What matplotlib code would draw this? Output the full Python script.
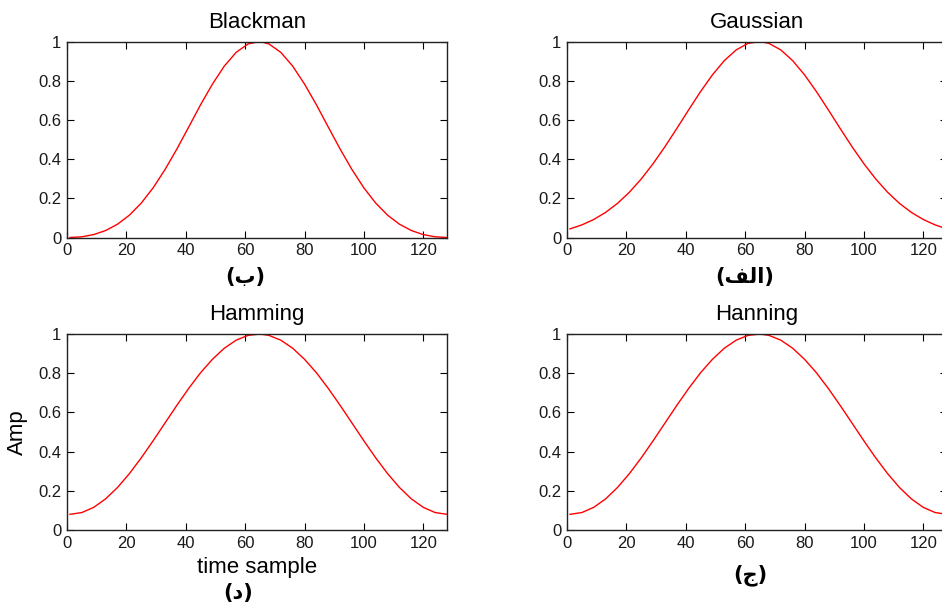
import matplotlib
matplotlib.use("Agg")
import matplotlib.pyplot as plt

plt.rcParams['font.family'] = ['Liberation Sans', 'DejaVu Sans']

# sample index (MATLAB style, 1..128), read every 4 samples off the curves
samples = [1, 5, 9, 13, 17, 21, 25, 29, 33, 37, 41, 45, 49, 53, 57, 61, 65,
           68, 72, 76, 80, 84, 88, 92, 96, 100, 104, 108, 112, 116, 120, 124, 128]

blackman = [0.0000, 0.0036, 0.0149, 0.0355, 0.0677, 0.1137, 0.1753, 0.2532, 0.3462,
            0.4512, 0.5637, 0.6775, 0.7829, 0.8749, 0.9449, 0.9878, 0.9998,
            0.9878, 0.9449, 0.8749, 0.7829, 0.6775, 0.5637, 0.4512, 0.3462,
            0.2532, 0.1753, 0.1137, 0.0677, 0.0355, 0.0149, 0.0036, 0.0000]

gaussian = [0.0439, 0.0643, 0.0919, 0.1280, 0.1740, 0.2307, 0.2984, 0.3766, 0.4635,
            0.5565, 0.6518, 0.7448, 0.8301, 0.9026, 0.9573, 0.9905, 0.9998,
            0.9905, 0.9573, 0.9026, 0.8301, 0.7448, 0.6518, 0.5565, 0.4635,
            0.3766, 0.2984, 0.2307, 0.1740, 0.1280, 0.0919, 0.0643, 0.0439]

hamming = [0.0800, 0.0890, 0.1156, 0.1587, 0.2168, 0.2874, 0.3678, 0.4551, 0.5457,
           0.6359, 0.7226, 0.8026, 0.8711, 0.9276, 0.9687, 0.9931, 0.9999,
           0.9931, 0.9687, 0.9276, 0.8711, 0.8026, 0.7226, 0.6359, 0.5457,
           0.4551, 0.3678, 0.2874, 0.2168, 0.1587, 0.1156, 0.0890, 0.0800]

# the "Hanning" panel in the source shows the same curve as Hamming
hanning = [0.0800, 0.0890, 0.1156, 0.1587, 0.2168, 0.2874, 0.3678, 0.4551, 0.5457,
           0.6359, 0.7226, 0.8026, 0.8711, 0.9276, 0.9687, 0.9931, 0.9999,
           0.9931, 0.9687, 0.9276, 0.8711, 0.8026, 0.7226, 0.6359, 0.5457,
           0.4551, 0.3678, 0.2874, 0.2168, 0.1587, 0.1156, 0.0890, 0.0800]

titles = ["Blackman", "Gaussian", "Hamming", "Hanning"]
x_ticks = [0, 20, 40, 60, 80, 100, 120]
y_ticks = [0, 0.2, 0.4, 0.6, 0.8, 1]
y_tick_labels = ["0", "0.2", "0.4", "0.6", "0.8", "1"]

# Persian panel letters (ب, الف, د, ج); matplotlib does no Arabic shaping,
# so they are written in visual order with presentation forms
panel_labels = ["(\uFE8F)", "(\uFED2\uFEDF\uFE8D)", "(\uFEA9)", "(\uFE9D)"]

W, H = 942, 605
fig = plt.figure(figsize=(W / 100, H / 100), dpi=100)

# axes boxes in pixels: left, top, width, height
boxes = [(67, 41.5, 380, 196), (567, 41.5, 380, 196),
         (67, 334, 380, 196), (567, 334, 380, 196)]
label_pos = [(245, 277), (745, 277), (238, 593), (750, 575)]
series = [blackman, gaussian, hamming, hanning]

axes = []
for (l, t, w, h), title, ys in zip(boxes, titles, series):
    ax = fig.add_axes([l / W, 1 - (t + h) / H, w / W, h / H])
    ax.plot(samples, ys, color='red', linewidth=1.0)
    ax.set_xlim(0, 128)
    ax.set_ylim(0, 1)
    ax.set_xticks(x_ticks)
    ax.set_yticks(y_ticks)
    ax.set_yticklabels(y_tick_labels)
    ax.tick_params(direction='in', top=True, right=True, length=5, width=0.8,
                   labelsize=12, pad=4, colors='black', labelcolor='#1a1a1a')
    for sp in ax.spines.values():
        sp.set_linewidth(1.0)
        sp.set_color('#222222')
    ax.set_title(title, fontsize=16, pad=10)
    axes.append(ax)

axes[2].set_ylabel("Amp", fontsize=16)
axes[2].yaxis.set_label_coords(-0.103, 0.5)
axes[2].set_xlabel("time sample", fontsize=16, labelpad=5)

for (px, py), txt in zip(label_pos, panel_labels):
    fig.text(px / W, 1 - py / H, txt, fontsize=15, fontweight='bold',
             family=['DejaVu Sans'], ha='center', va='center')

fig.savefig("out.png", dpi=100)
